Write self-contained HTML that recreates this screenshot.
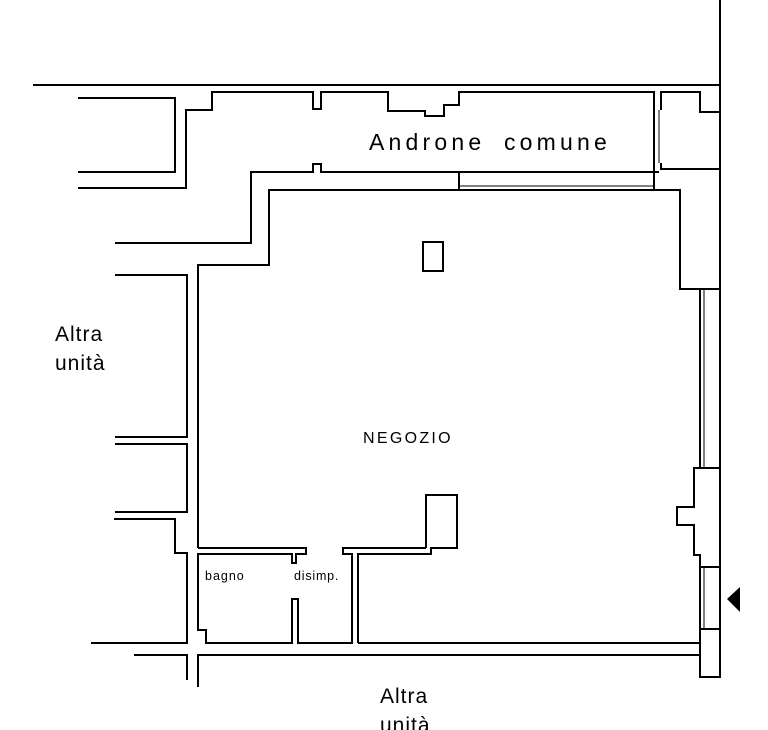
<!DOCTYPE html>
<html><head><meta charset="utf-8"><style>
html,body{margin:0;padding:0;background:#fff;}
svg{display:block;}
text{font-family:"Liberation Sans",sans-serif;fill:#000;}
</style></head><body>
<svg width="768" height="730" viewBox="0 0 768 730" xmlns="http://www.w3.org/2000/svg">
<g fill="none" stroke="#000" stroke-width="2">
<line x1="33" y1="85" x2="720" y2="85"/>
<line x1="720" y1="0" x2="720" y2="289"/>
<polyline points="78,98 175,98 175,172 78,172"/>
<polyline points="78,188 186,188 186,110 212,110 212,92 313,92 313,109 321,109 321,92 388,92 388,111 425,111 425,116 444,116 444,105 459,105 459,92 654,92 654,190"/>
<polyline points="661,92 661,110 661,92 700,92 700,112 720,112"/>
<polyline points="661,163 661,169 720,169"/>
<polyline points="115,243 251,243 251,172 313,172 313,164 321,164 321,172 659,172"/>
<line x1="459" y1="172" x2="459" y2="190"/>
<polyline points="115,275 187,275 187,437 115,437"/>
<polyline points="115,444 187,444 187,512 115,512"/>
<polyline points="114,519 175,519 175,553 187,553 187,643 91,643"/>
<polyline points="198,548 198,265 269,265 269,190 680,190 680,289 720,289"/>
<rect x="423" y="242" width="20" height="29"/>
<polyline points="198,548 306,548 306,554 296,554 296,563 292,563 292,554 198,554 198,630 206,630 206,643 292,643 292,599 298,599 298,643 352,643 352,554 343,554 343,548 426,548"/>
<polyline points="358,643 358,554 431,554 431,548 457,548 457,495 426,495 426,548"/>
<polyline points="358,643 700,643"/>
<polyline points="700,289 700,468 720,468"/>
<polyline points="720,289 720,677 700,677 700,629 720,629"/>
<polyline points="700,468 694,468 694,507 677,507 677,525 694,525 694,555 700,555 700,567 720,567"/>
<line x1="700" y1="567" x2="700" y2="629"/>
<polyline points="198,687 198,655 700,655"/>
<polyline points="134,655 187,655 187,680"/>
</g>
<g fill="none" stroke="#000" stroke-width="1">
<line x1="659" y1="110" x2="659" y2="163"/>
<line x1="459" y1="186" x2="654" y2="186"/>
<line x1="704" y1="289" x2="704" y2="468"/>
<line x1="704" y1="567" x2="704" y2="629"/>
</g>
<polygon points="740,587 727,599 740,612" fill="#000"/>
<text x="369" y="150" font-size="23" letter-spacing="4.2" word-spacing="8">Androne comune</text>
<text x="55" y="341" font-size="21" letter-spacing="1">Altra</text>
<text x="55" y="370" font-size="21" letter-spacing="1">unità</text>
<text x="363" y="443" font-size="16" letter-spacing="2.3">NEGOZIO</text>
<text x="205" y="580" font-size="12.5" letter-spacing="1">bagno</text>
<text x="294" y="580" font-size="12.5" letter-spacing="0.8">disimp.</text>
<text x="380" y="703" font-size="21" letter-spacing="1">Altra</text>
<text x="380" y="732" font-size="21" letter-spacing="1">unità</text>
</svg>
</body></html>
